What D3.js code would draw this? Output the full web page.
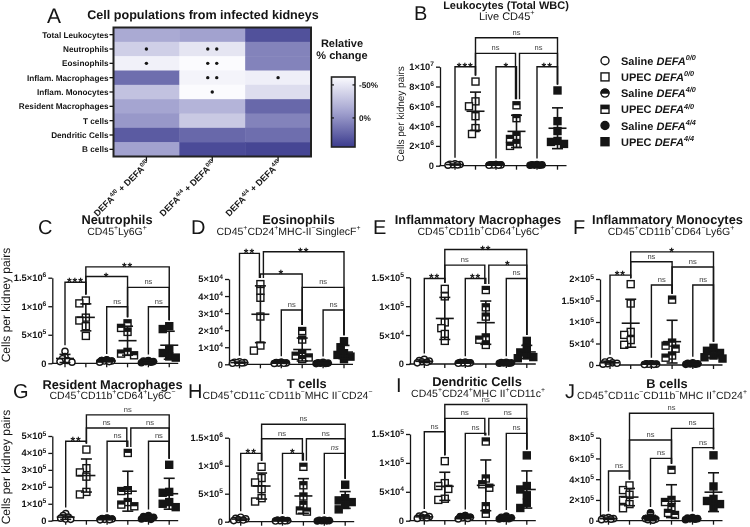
<!DOCTYPE html>
<html><head><meta charset="utf-8">
<script src="https://cdn.jsdelivr.net/npm/d3@7"></script>
<style>body{margin:0;background:#fff;} svg{display:block;will-change:transform;} svg text{text-rendering:geometricPrecision;}</style>
</head><body><svg id="c" width="750" height="527"></svg>
<script>
// ---------------- DATA ----------------
const heatRows = ["Total Leukocytes","Neutrophils","Eosinophils","Inflam. Macrophages","Inflam. Monocytes","Resident Macrophages","T cells","Dendritic Cells","B cells"];
const heatCols = ["DEFA^{4/0} + DEFA^{0/0}","DEFA^{4/4} + DEFA^{0/0}","DEFA^{4/4} + DEFA^{4/0}"];
const heatValues = [[-14,-9,33],[-36,-49,7],[-56,-62,7],[18,-58,-55],[-28,-62,-44],[-11,-20,21],[-4,-32,7],[28,21,18],[-9,36,39]];
const heatStars = [[0,0,0],[1,2,0],[1,2,0],[0,2,1],[0,1,0],[0,0,0],[0,0,0],[0,0,0],[0,0,0]];
const heatLegendTicks = [-50, 0];

const groupLabels = ["Saline ~DEFA^{0/0}~","UPEC ~DEFA^{0/0}~","Saline ~DEFA^{4/0}~","UPEC ~DEFA^{4/0}~","Saline ~DEFA^{4/4}~","UPEC ~DEFA^{4/4}~"];

const panelTitles = ["Leukocytes (Total WBC)","Neutrophils","Eosinophils","Inflammatory Macrophages","Inflammatory Monocytes","Resident Macrophages","T cells","Dendritic Cells","B cells"];
const panelSubtitles = ["Live CD45^{+}","CD45^{+}Ly6G^{+}","CD45^{+}CD24^{+}MHC-II^{−}SinglecF^{+}","CD45^{+}CD11b^{+}CD64^{+}Ly6C^{+}","CD45^{+}CD11b^{+}CD64^{−}Ly6G^{+}","CD45^{+}CD11b^{+}CD64^{+}Ly6C^{−}","CD45^{+}CD11c^{−}CD11b^{−}MHC II^{−}CD24^{−}","CD45^{+}CD24^{+}MHC II^{+}CD11c^{+}","CD45^{+}CD11c^{−}CD11b^{−}MHC II^{+}CD24^{+}"];

const leukocytes = [[0.2e6,0.15e6,0.12e6,0.1e6,0.08e6,0.05e6],[8.5e6,6.5e6,6.0e6,5.0e6,3.8e6,3.2e6],[0.12e6,0.1e6,0.08e6,0.07e6,0.05e6,0.04e6],[6.1e6,4.8e6,3.0e6,2.7e6,2.2e6,2.0e6],[0.12e6,0.1e6,0.08e6,0.06e6,0.05e6,0.04e6],[7.6e6,4.5e6,3.5e6,2.5e6,2.4e6,2.2e6]];
const neutrophils = [[0.21e6,0.12e6,0.08e6,0.05e6,0.03e6,0.02e6],[1.1e6,1.05e6,0.8e6,0.75e6,0.65e6,0.48e6],[0.06e6,0.05e6,0.04e6,0.04e6,0.03e6,0.02e6],[0.7e6,0.62e6,0.55e6,0.2e6,0.17e6,0.14e6],[0.05e6,0.04e6,0.03e6,0.03e6,0.02e6,0.01e6],[0.65e6,0.6e6,0.25e6,0.18e6,0.12e6,0.1e6]];
const eosinophils = [[1500,1200,1000,900,800,600],[47000,43000,39000,28000,11000,8000],[1200,1000,800,700,600,500],[19500,14500,6000,5000,4000,3000],[1100,900,700,600,500,400],[13500,10000,6500,5500,4500,3000]];
const inflamMacrophages = [[8000,6000,5000,4000,3000,2000],[130000,117000,72000,62000,52000,40000],[3000,2500,2000,1800,1500,1200],[128000,98000,82000,46000,42000,33000],[3000,2500,2000,1800,1500,1200],[40000,28000,20000,15000,12000,10000]];
const inflamMonocytes = [[10000,7000,5000,4000,3000,2000],[188000,143000,77000,70000,58000,47000],[3000,2500,2000,1800,1500,1200],[152000,52000,45000,38000,22000,17000],[5000,4000,3000,2500,2000,1500],[40000,33000,28000,22000,18000,15000]];
const residentMacrophages = [[42000,30000,22000,15000,10000,8000],[420000,310000,285000,260000,170000,155000],[15000,12000,10000,8000,6000,5000],[400000,180000,175000,110000,95000,85000],[30000,25000,20000,15000,10000,8000],[330000,170000,165000,110000,100000,80000]];
const tCells = [[80000,60000,50000,40000,30000,20000],[980000,780000,700000,580000,420000,360000],[30000,25000,20000,18000,15000,12000],[980000,650000,450000,300000,200000,180000],[30000,25000,20000,18000,15000,12000],[660000,420000,380000,350000,300000,220000]];
const dendriticCells = [[10000,8000,7000,6000,5000,4000],[103000,65000,60000,55000,38000,36000],[9000,7000,6000,5000,4000,3000],[137000,73000,63000,57000,25000,12000],[8000,6000,5000,4000,3500,3000],[113000,60000,54000,44000,31000,22000]];
const bCells = [[30000,25000,20000,18000,15000,10000],[340000,295000,250000,200000,160000,120000],[75000,30000,20000,15000,10000,5000],[490000,200000,180000,130000,75000,55000],[30000,25000,20000,18000,15000,10000],[630000,330000,210000,190000,160000,130000]];

const leukoTicks = [0,2e6,4e6,6e6,8e6,1e7];
const neutTicks = [0,5e5,1e6,1.5e6];
const eosTicks = [0,1e4,2e4,3e4,4e4,5e4];
const imacTicks = [0,5e4,1e5,1.5e5];
const imonoTicks = [0,5e4,1e5,1.5e5,2e5];
const rmacTicks = [0,1e5,2e5,3e5,4e5,5e5];
const tTicks = [0,5e5,1e6,1.5e6];
const dcTicks = [0,5e4,1e5,1.5e5];
const bTicks = [0,2e5,4e5,6e5,8e5];

// significance brackets: [group i, group j, label, level]
const leukoSig = [[0,1,"***",10e6],[2,3,"*",10e6],[4,5,"**",10e6],[1,3,"ns",11.35e6],[3,5,"ns",11.35e6],[1,5,"ns",12.93e6]];
const neutSig = [[0,1,"***",1.42e6],[2,3,"ns",0.99e6],[4,5,"ns",0.99e6],[1,3,"*",1.52e6],[3,5,"ns",1.33e6],[1,5,"**",1.69e6]];
const eosSig = [[0,1,"**",65e3],[1,5,"**",66e3],[1,3,"*",52.9e3],[3,5,"ns",45.1e3],[2,3,"ns",31.8e3],[4,5,"ns",31.8e3]];
const imacSig = [[1,5,"**",198e3],[1,3,"ns",171e3],[3,5,"*",171e3],[0,1,"**",148e3],[2,3,"**",148e3],[4,5,"ns",148e3]];
const imonoSig = [[1,5,"*",263e3],[1,3,"ns",240e3],[3,5,"ns",228e3],[0,1,"**",209e3],[2,3,"ns",186e3],[4,5,"ns",186e3]];
const rmacSig = [[1,5,"ns",6.25e5],[1,3,"ns",5.47e5],[3,5,"ns",5.47e5],[0,1,"**",4.69e5],[2,3,"ns",4.69e5],[4,5,"ns",4.69e5]];
const tSig = [[1,5,"ns",1.74e6],[1,3,"ns",1.48e6],[3,5,"ns",1.48e6],[0,1,"**",1.22e6],[2,3,"*",1.22e6],[4,5,"~ns~",1.22e6]];
const dcSig = [[1,5,"ns",201e3],[1,3,"ns",177e3],[3,5,"ns",177e3],[0,1,"ns",154e3],[2,3,"ns",151e3],[4,5,"ns",151e3]];
const bSig = [[1,5,"ns",10.35e5],[3,5,"ns",8.9e5],[1,3,"ns",7.78e5],[4,5,"ns",7.04e5],[2,3,"ns",6.01e5],[0,1,"ns",4.79e5]];

// ---------------- RENDER ----------------
const FONT = "'Liberation Sans', Arial, Helvetica, sans-serif";
const INK = "#151515";
const svg = d3.select('#c').attr('font-family', FONT);

function rich(sel, str, fs, supRatio) {
  const sr = supRatio || 0.66;
  let italic = false, sup = false, buf = '';
  const runs = [];
  const push = () => { if (buf) runs.push({t: buf, italic, sup}); buf = ''; };
  for (let i = 0; i < str.length; i++) {
    const ch = str[i];
    if (ch === '~') { push(); italic = !italic; }
    else if (ch === '^' && str[i+1] === '{') { push(); sup = true; i++; }
    else if (ch === '}' && sup) { push(); sup = false; }
    else buf += ch;
  }
  push();
  let cur = 0;
  runs.forEach(r => {
    const target = r.sup ? -0.42 * fs : 0;
    const ts = sel.append('tspan').text(r.t);
    if (target - cur !== 0) ts.attr('dy', target - cur);
    cur = target;
    if (r.sup) ts.attr('font-size', fs * sr);
    if (r.italic) ts.attr('font-style', 'italic');
  });
  return sel;
}
function sci(v) {
  if (v === 0) return "0";
  const e = Math.floor(Math.log10(v) + 1e-9);
  const m = +(v / Math.pow(10, e)).toFixed(2);
  return m + "×10^{" + e + "}";
}

// ---- Panel A heatmap ----
const hx = d3.scaleBand().domain(d3.range(heatCols.length)).range([113.5, 311]);
const hy = d3.scaleBand().domain(d3.range(heatRows.length)).range([27.5, 156.5]);
const heatColor = d3.scaleLinear().domain([-62, -9, 44]).range(["#fbfbfe", "#a2a2cf", "#3c3c8e"]);
const A = svg.append('g');
heatValues.forEach((row, r) => row.forEach((v, c) => {
  A.append('rect').attr('x', hx(c)).attr('y', hy(r)).attr('width', hx.bandwidth() + 0.5).attr('height', hy.bandwidth() + 0.5).attr('fill', heatColor(v));
  const n = heatStars[r][c];
  const cx = hx(c) + hx.bandwidth() / 2, cy = hy(r) + hy.bandwidth() / 2;
  if (n === 1) A.append('circle').attr('cx', cx).attr('cy', cy).attr('r', 1.7).attr('fill', INK);
  if (n === 2) [-4.5, 4.5].forEach(d => A.append('circle').attr('cx', cx + d).attr('cy', cy).attr('r', 1.7).attr('fill', INK));
}));
A.append('rect').attr('x', 113.5).attr('y', 27.5).attr('width', 197.5).attr('height', 129).attr('fill', 'none').attr('stroke', '#222').attr('stroke-width', 2);
heatRows.forEach((name, r) => {
  const cy = hy(r) + hy.bandwidth() / 2;
  A.append('line').attr('x1', 109.5).attr('x2', 113).attr('y1', cy).attr('y2', cy).attr('stroke', INK).attr('stroke-width', 1.3);
  A.append('text').attr('x', 108.5).attr('y', cy).attr('dy', '0.35em').attr('text-anchor', 'end').attr('font-size', 8.2).attr('font-weight', 'bold').attr('fill', INK).text(name);
});
heatCols.forEach((name, c) => {
  const cx = hx(c) + hx.bandwidth() / 2;
  A.append('line').attr('x1', cx).attr('x2', cx).attr('y1', 157).attr('y2', 161).attr('stroke', INK).attr('stroke-width', 1.3);
  const t = A.append('text').attr('transform', `translate(${cx + 4},${164}) rotate(-45)`).attr('text-anchor', 'end').attr('font-size', 9).attr('font-weight', 'bold').attr('fill', INK);
  rich(t, name, 9);
});
A.append('text').attr('x', 47).attr('y', 23).attr('font-size', 21).attr('fill', INK).text('A');
A.append('text').attr('x', 203).attr('y', 18.5).attr('text-anchor', 'middle').attr('font-size', 12.6).attr('font-weight', 'bold').attr('fill', INK).text('Cell populations from infected kidneys');
// color legend
const legY = d3.scaleLinear().domain([-62, 44]).range([77, 147]);
const grad = svg.append('defs').append('linearGradient').attr('id', 'hg').attr('x1', 0).attr('x2', 0).attr('y1', 0).attr('y2', 1);
d3.range(0, 1.0001, 0.1).forEach(t => grad.append('stop').attr('offset', t).attr('stop-color', heatColor(-62 + 106 * t)));
A.append('rect').attr('x', 331.5).attr('y', 77).attr('width', 23.5).attr('height', 70).attr('fill', 'url(#hg)').attr('stroke', '#222').attr('stroke-width', 1.6);
heatLegendTicks.forEach(v => {
  A.append('line').attr('x1', 331.5).attr('x2', 334).attr('y1', legY(v)).attr('y2', legY(v)).attr('stroke', INK).attr('stroke-width', 1.2);
  A.append('line').attr('x1', 352.5).attr('x2', 355).attr('y1', legY(v)).attr('y2', legY(v)).attr('stroke', INK).attr('stroke-width', 1.2);
  A.append('text').attr('x', 359).attr('y', legY(v)).attr('dy', '0.35em').attr('font-size', 8.2).attr('font-weight', 'bold').attr('fill', INK).text(v + '%');
});
A.append('text').attr('x', 342).attr('y', 47).attr('text-anchor', 'middle').attr('font-size', 11).attr('font-weight', 'bold').attr('fill', INK).text('Relative');
A.append('text').attr('x', 342).attr('y', 58.5).attr('text-anchor', 'middle').attr('font-size', 11).attr('font-weight', 'bold').attr('fill', INK).text('% change');

// ---- markers ----
function marker(g, type, x, y, s) {
  const fill = type >= 4 ? INK : '#fff';
  if (type % 2 === 0) {
    const r = s / 2;
    g.append('circle').attr('cx', x).attr('cy', y).attr('r', r).attr('fill', fill).attr('stroke', INK).attr('stroke-width', 1.4);
    if (type === 2) g.append('path').attr('d', `M${x - r},${y} A${r},${r} 0 0 1 ${x + r},${y} Z`).attr('fill', INK).attr('stroke', INK).attr('stroke-width', 1.2);
  } else {
    g.append('rect').attr('x', x - s / 2).attr('y', y - s / 2).attr('width', s).attr('height', s).attr('fill', fill).attr('stroke', INK).attr('stroke-width', 1.4);
    if (type === 3) g.append('rect').attr('x', x - s / 2).attr('y', y - s / 2).attr('width', s).attr('height', s / 2).attr('fill', INK);
  }
}

// ---- scatter panels ----
const panels = [
  {data: leukocytes, ticks: leukoTicks, sig: leukoSig, ti: 0, x0: 440, gx: 455, step: 20.5, yTop: 66.7, yBot: 165.7, tx: 506, ty: 8.5, tfs: 11, sx: 506.7, sy: 19.5, sfs: 11, letter: 'B', lx: 414, ly: 19.5, ylab: {x: 404, y: 114, fs: 10}},
  {data: neutrophils, ticks: neutTicks, sig: neutSig, ti: 1, x0: 52.3, gx: 65, step: 20.85, yTop: 277.7, yBot: 363.3, tx: 117, ty: 224, sx: 117, sy: 234.5, letter: 'C', lx: 38, ly: 233.5, ylab: {x: 10, y: 305, fs: 12}},
  {data: eosinophils, ticks: eosTicks, sig: eosSig, ti: 2, x0: 229, gx: 239.5, step: 20.9, yTop: 279, yBot: 364.3, tx: 298.5, ty: 224, sx: 288.5, sy: 234.5, letter: 'D', lx: 191, ly: 233.5},
  {data: inflamMacrophages, ticks: imacTicks, sig: imacSig, ti: 3, x0: 410, gx: 424.3, step: 20.5, yTop: 277.3, yBot: 364, tx: 478, ty: 224, sx: 480.5, sy: 234.5, letter: 'E', lx: 373, ly: 233.5},
  {data: inflamMonocytes, ticks: imonoTicks, sig: imonoSig, ti: 4, x0: 600, gx: 610, step: 20.7, yTop: 279, yBot: 365, tx: 667.5, ty: 224, sx: 671, sy: 234.5, letter: 'F', lx: 573, ly: 233.5},
  {data: residentMacrophages, ticks: rmacTicks, sig: rmacSig, ti: 5, x0: 52.3, gx: 65.7, step: 20.7, yTop: 436, yBot: 520.7, tx: 112.5, ty: 388.5, sx: 112.5, sy: 398.5, letter: 'G', lx: 13, ly: 398, ylab: {x: 10, y: 467, fs: 12}},
  {data: tCells, ticks: tTicks, sig: tSig, ti: 6, x0: 229, gx: 240.7, step: 20.9, yTop: 437.7, yBot: 521.7, tx: 306.7, ty: 388, sx: 287.5, sy: 398.5, letter: 'H', lx: 188, ly: 398},
  {data: dendriticCells, ticks: dcTicks, sig: dcSig, ti: 7, x0: 410, gx: 424.3, step: 20.5, yTop: 434, yBot: 520.7, tx: 477, ty: 385.5, sx: 478, sy: 396.5, letter: 'I', lx: 396, ly: 392},
  {data: bCells, ticks: bTicks, sig: bSig, ti: 8, x0: 600, gx: 608.5, step: 21, yTop: 437.7, yBot: 520.7, tx: 667, ty: 388, sx: 662, sy: 398.5, letter: 'J', lx: 565, ly: 398}
];

panels.forEach(p => {
  const g = svg.append('g');
  const ymax = d3.max(p.ticks);
  const y = d3.scaleLinear().domain([0, ymax]).range([p.yBot, p.yTop]);
  const gx = d3.scaleLinear().domain([0, 5]).range([p.gx, p.gx + 5 * p.step]);
  const tfs = 9.3;
  // y axis
  const ax = g.append('g').attr('transform', `translate(${p.x0},0)`)
    .call(d3.axisLeft(y).tickValues(p.ticks).tickSize(4).tickSizeOuter(0).tickPadding(2).tickFormat(() => ''));
  ax.attr('font-family', FONT).attr('font-size', tfs);
  ax.select('.domain').attr('stroke', INK).attr('stroke-width', 1.3);
  ax.selectAll('.tick line').attr('stroke', INK).attr('stroke-width', 1.3);
  ax.selectAll('.tick text').attr('fill', INK).attr('font-weight', 'bold').each(function (d) { rich(d3.select(this), sci(d), tfs, 0.72); });
  // x axis
  const y0 = y(0);
  g.append('line').attr('x1', p.x0 - 0.6).attr('x2', gx(5) + 9).attr('y1', y0).attr('y2', y0).attr('stroke', INK).attr('stroke-width', 1.3);
  d3.range(6).forEach(i => g.append('line').attr('x1', gx(i)).attr('x2', gx(i)).attr('y1', y0).attr('y2', y0 + 4).attr('stroke', INK).attr('stroke-width', 1.3));
  // points
  const tops = [];
  p.data.forEach((vals, i) => {
    const placed = [];
    const saline = i % 2 === 0;
    const s = saline ? 6.2 : 7;
    const minSep = saline ? 3.2 : 6.5;
    vals.slice().sort((a, b) => b - a).forEach(v => {
      const py = y(v);
      const cands = saline ? [0, -2.5, 2.5, -5, 5, -7, 7] : [0, -3.5, 3.5, -6.5, 6.5, -9, 9];
      let best = 0, bestScore = Infinity;
      for (const o of cands) {
        const minD = d3.min(placed, q => Math.hypot(q[0] - o, q[1] - py));
        if (minD === undefined || minD >= minSep) { best = o; bestScore = -1; break; }
        if (-minD < bestScore) { bestScore = -minD; best = o; }
      }
      placed.push([best, py]);
      marker(g, i, gx(i) + best, py, s);
    });
    const m = d3.mean(vals), sd = d3.deviation(vals);
    const cx = gx(i);
    const eg = g.append('g').attr('stroke', INK).attr('stroke-width', 1.6);
    eg.append('line').attr('x1', cx).attr('x2', cx).attr('y1', y(m + sd)).attr('y2', y(Math.max(0, m - sd)));
    eg.append('line').attr('x1', cx - 9).attr('x2', cx + 9).attr('y1', y(m)).attr('y2', y(m));
    eg.append('line').attr('x1', cx - 5.5).attr('x2', cx + 5.5).attr('y1', y(m + sd)).attr('y2', y(m + sd));
    eg.append('line').attr('x1', cx - 5.5).attr('x2', cx + 5.5).attr('y1', y(Math.max(0, m - sd))).attr('y2', y(Math.max(0, m - sd)));
    tops.push(Math.max(d3.max(vals), m + sd));
  });
  // brackets
  p.sig.forEach(b => {
    const [i, j, label, level] = b;
    const same = (c) => Math.abs(c[3] - level) < 0.03 * ymax;
    const offS = p.sig.some(c => c !== b && c[1] === i && same(c)) ? 3 : 0;
    const offE = p.sig.some(c => c !== b && c[0] === j && same(c)) ? -1 : 0;
    const xi = gx(i) + offS, xj = gx(j) + offE, ly = y(level);
    const bi = y(tops[i]) - 6, bj = y(tops[j]) - 6;
    g.append('path').attr('d', `M${xi},${bi}V${ly}H${xj}V${bj}`).attr('fill', 'none').attr('stroke', INK).attr('stroke-width', 1.4);
    const isNs = label.indexOf('ns') >= 0;
    const t = g.append('text').attr('x', (xi + xj) / 2).attr('text-anchor', 'middle').attr('fill', isNs ? '#3a3a3a' : INK);
    if (isNs) { t.attr('y', ly - 3).attr('font-size', 7.5); rich(t, label, 7.5); }
    else t.attr('y', ly + 4).attr('font-size', 12).attr('font-weight', 'bold').attr('letter-spacing', 1).text(label);
  });
  // titles
  g.append('text').attr('x', p.tx).attr('y', p.ty).attr('text-anchor', 'middle').attr('font-size', p.tfs || 12.8).attr('font-weight', 'bold').attr('fill', INK).text(panelTitles[p.ti]);
  const st = g.append('text').attr('x', p.sx).attr('y', p.sy).attr('text-anchor', 'middle').attr('font-size', p.sfs || 10.5).attr('fill', INK);
  rich(st, panelSubtitles[p.ti], p.sfs || 10.5);
  g.append('text').attr('x', p.lx).attr('y', p.ly).attr('font-size', 20).attr('fill', INK).text(p.letter);
  if (p.ylab) g.append('text').attr('transform', `translate(${p.ylab.x},${p.ylab.y}) rotate(-90)`).attr('text-anchor', 'middle').attr('font-size', p.ylab.fs).attr('fill', INK).text('Cells per kidney pairs');
});

// ---- group legend ----
const L = svg.append('g');
groupLabels.forEach((lab, i) => {
  const yy = 60.7 + i * 16.2;
  marker(L, i, 605, yy, 8);
  const t = L.append('text').attr('x', 621).attr('y', yy + 4).attr('font-size', 11).attr('font-weight', 'bold').attr('fill', INK);
  rich(t, lab, 11);
});
</script></body></html>
